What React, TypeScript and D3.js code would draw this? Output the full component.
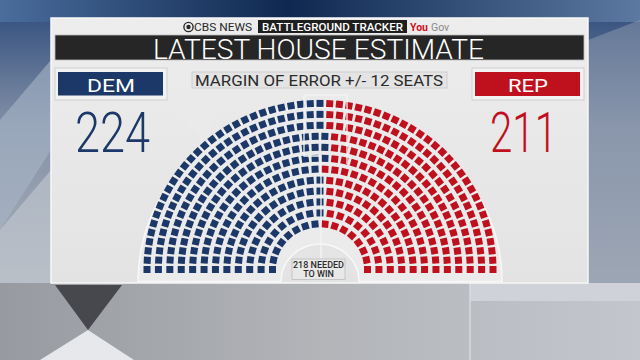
import React from "react";
import * as d3 from "d3";

const parties = ["DEM", "REP"];
const seatCounts = [224, 211];
const partyColors = ["#1b3868", "#bf111d"];
const neededToWin = 218;
const marginSeats = 12;
const rowCount = 12;
const headerLogo = ["CBS NEWS", "BATTLEGROUND TRACKER", "You", "Gov"];
const titleText = "LATEST HOUSE ESTIMATE";

const W = 640;
const H = 360;
const cx = 320;
const cy = 269.5;
const ySquash = 0.96;
const seatSize = 7;

type Seat = { t: number; r: number; x: number; y: number; party: number };

function layoutSeats(): Seat[] {
  const total = d3.sum(seatCounts);
  const rScale = d3.scaleLinear().domain([0, rowCount - 1]).range([47.5, 173]);
  const radii = d3.range(rowCount).map((i) => rScale(i));
  const sumR = d3.sum(radii);
  const counts = radii.map((r) => Math.round((total * r) / sumR));
  let diff = total - d3.sum(counts);
  let i = rowCount - 1;
  while (diff !== 0) {
    counts[i] += Math.sign(diff);
    diff -= Math.sign(diff);
    i = (i - 1 + rowCount) % rowCount;
  }
  const seats: Seat[] = [];
  radii.forEach((r, ri) => {
    const n = counts[ri];
    const a = d3.scaleLinear().domain([0, n - 1]).range([0, Math.PI]);
    for (let j = 0; j < n; j++) {
      const t = a(j);
      seats.push({
        t,
        r,
        x: cx - r * Math.cos(t),
        y: cy - r * Math.sin(t) * ySquash,
        party: 0,
      });
    }
  });
  seats.sort((p, q) => p.t - q.t || q.r - p.r);
  const cum = d3.cumsum(seatCounts);
  seats.forEach((s, k) => {
    s.party = cum.findIndex((c) => k < c);
  });
  return seats;
}

export default function App() {
  const seats = layoutSeats();
  const outerR = 182;
  const innerR = 39;
  const base = cy + 12;
  const outline = `M${cx - outerR},${base} A${outerR},${outerR * ySquash} 0 0 1 ${cx + outerR},${base} L${cx + innerR},${base} A${innerR},${innerR * ySquash} 0 0 0 ${cx - innerR},${base} Z`;

  return (
    <svg
      width={W}
      height={H}
      style={{ position: "absolute", left: 0, top: 0 }}
      fontFamily="Roboto, 'Open Sans', sans-serif"
    >
      <defs>
        <linearGradient id="bgV" x1="0" y1="0" x2="0" y2="1">
          <stop offset="0" stopColor="#1c3560" />
          <stop offset="0.06" stopColor="#3b5682" />
          <stop offset="0.35" stopColor="#8391a7" />
          <stop offset="0.78" stopColor="#aab0b8" />
          <stop offset="1" stopColor="#b3b5b9" />
        </linearGradient>
        <linearGradient id="topH" x1="0" y1="0" x2="1" y2="0">
          <stop offset="0" stopColor="#4a6d9c" />
          <stop offset="0.45" stopColor="#0f2850" />
          <stop offset="1" stopColor="#5b79a2" />
        </linearGradient>
        <linearGradient id="botH" x1="0" y1="0" x2="1" y2="0">
          <stop offset="0" stopColor="#979aa0" />
          <stop offset="0.5" stopColor="#b2b4b8" />
          <stop offset="1" stopColor="#c3c7cd" />
        </linearGradient>
        <linearGradient id="panel" x1="0" y1="0" x2="0" y2="1">
          <stop offset="0" stopColor="#ededed" />
          <stop offset="1" stopColor="#e3e3e3" />
        </linearGradient>
      </defs>

      {/* background */}
      <rect x={0} y={0} width={W} height={H} fill="url(#bgV)" />
      <rect x={0} y={0} width={W} height={22} fill="url(#topH)" />
      <polygon points="0,120 51,60 51,150 0,230" fill="#a9b6c8" opacity={0.6} />
      <polygon points="0,230 51,170 51,283 0,283" fill="#c3c9d2" opacity={0.6} />
      <polygon points="588,40 640,20 640,283 588,283" fill="#8f9cb0" opacity={0.5} />
      <rect x={0} y={283} width={W} height={77} fill="url(#botH)" />
      <rect x={470} y={283} width={170} height={18} fill="#cfd3d9" />
      <line x1={470} y1={283} x2={470} y2={360} stroke="#d8dbe0" strokeWidth={1.5} />
      <polygon points="55,285 122,285 88,330" fill="#46484d" />
      <polygon points="40,360 134,360 88,330" fill="#e6e8ec" />

      {/* panel */}
      <rect x={51} y={18} width={537} height={265} fill="url(#panel)" stroke="#f7f7f7" strokeWidth={1.5} />

      {/* logo row */}
      <circle cx={188.5} cy={27} r={4.6} fill="none" stroke="#2a2a2a" strokeWidth={1.4} />
      <circle cx={188.5} cy={27} r={2.2} fill="#2a2a2a" />
      <text x={194} y={31} fontSize={10.5} fill="#2a2a2a" textLength={58} lengthAdjust="spacingAndGlyphs">
        {headerLogo[0]}
      </text>
      <rect x={258} y={20} width={149} height={13} fill="#1f1f1f" />
      <text x={262} y={31} fontSize={10.5} fontWeight={500} fill="#ffffff" textLength={141} lengthAdjust="spacingAndGlyphs">
        {headerLogo[1]}
      </text>
      <text x={410} y={31} fontSize={10.5} fontWeight={700} fill="#d0101e">
        {headerLogo[2]}
      </text>
      <text x={431} y={31} fontSize={10.5} fill="#8a8a8a">
        {headerLogo[3]}
      </text>

      {/* title bar */}
      <rect x={55} y={35} width={529} height={25} fill="#262626" stroke="#bdbdbd" strokeWidth={0.8} />
      <text x={153} y={58.8} fontSize={27} fontWeight={300} fill="#ffffff" textLength={331} lengthAdjust="spacingAndGlyphs">
        {titleText}
      </text>

      {/* margin of error */}
      <rect x={192} y={72} width={255} height={16} fill="#e4e4e4" stroke="#c9c9c9" strokeWidth={0.8} />
      <text x={195} y={85.5} fontSize={15} fill="#2b2b2b" textLength={248} lengthAdjust="spacingAndGlyphs">
        {`MARGIN OF ERROR +/- ${marginSeats} SEATS`}
      </text>

      {/* DEM */}
      <polygon points="163,95 167,100 210,150 210,100" fill="#e9e9e9" opacity={0.7} />
      <rect x={55} y={68} width={112} height={32} fill="#f2f2f2" stroke="#cfcfcf" strokeWidth={1} />
      <rect x={58} y={72} width={105} height={23.5} fill={partyColors[0]} />
      <text x={87} y={91.5} fontSize={19} fontWeight={400} fill="#ffffff" textLength={48} lengthAdjust="spacingAndGlyphs">
        {parties[0]}
      </text>
      <text x={75} y={152} fontSize={56} fontWeight={300} fill={partyColors[0]} textLength={75} lengthAdjust="spacingAndGlyphs">
        {seatCounts[0]}
      </text>

      {/* REP */}
      <rect x={472} y={68} width={112} height={32} fill="#f2f2f2" stroke="#cfcfcf" strokeWidth={1} />
      <rect x={475} y={72} width={105} height={24} fill={partyColors[1]} />
      <text x={508} y={91.5} fontSize={19} fontWeight={400} fill="#ffffff" textLength={40} lengthAdjust="spacingAndGlyphs">
        {parties[1]}
      </text>
      <text x={490} y={152} fontSize={56} fontWeight={300} fill={partyColors[1]} textLength={67} lengthAdjust="spacingAndGlyphs">
        {seatCounts[1]}
      </text>

      {/* hemicycle */}
      <path d={outline} fill="#ebebeb" stroke="#f8f8f8" strokeWidth={1.5} />
      <g>
        {seats.map((s, k) => (
          <rect
            key={k}
            x={-seatSize / 2}
            y={-seatSize / 2}
            width={seatSize}
            height={seatSize}
            fill={partyColors[s.party]}
            transform={`translate(${s.x.toFixed(2)},${s.y.toFixed(2)}) rotate(${((s.t * 180) / Math.PI).toFixed(2)})`}
          />
        ))}
      </g>
      <path
        d={`M304,95 H347 V164 M304,95 V156 H321 V${base - 22}`}
        fill="none"
        stroke="#f4f4f4"
        strokeWidth={1.3}
      />

      {/* needed to win */}
      <rect x={292} y={259} width={53} height={20.5} fill="#e8e8e8" stroke="#bdbdbd" strokeWidth={0.8} />
      <text x={318.5} y={268} fontSize={9} fontWeight={500} textAnchor="middle" fill="#2b2b2b">
        {`${neededToWin} NEEDED`}
      </text>
      <text x={318.5} y={276.5} fontSize={9} fontWeight={500} textAnchor="middle" fill="#2b2b2b">
        TO WIN
      </text>
    </svg>
  );
}
